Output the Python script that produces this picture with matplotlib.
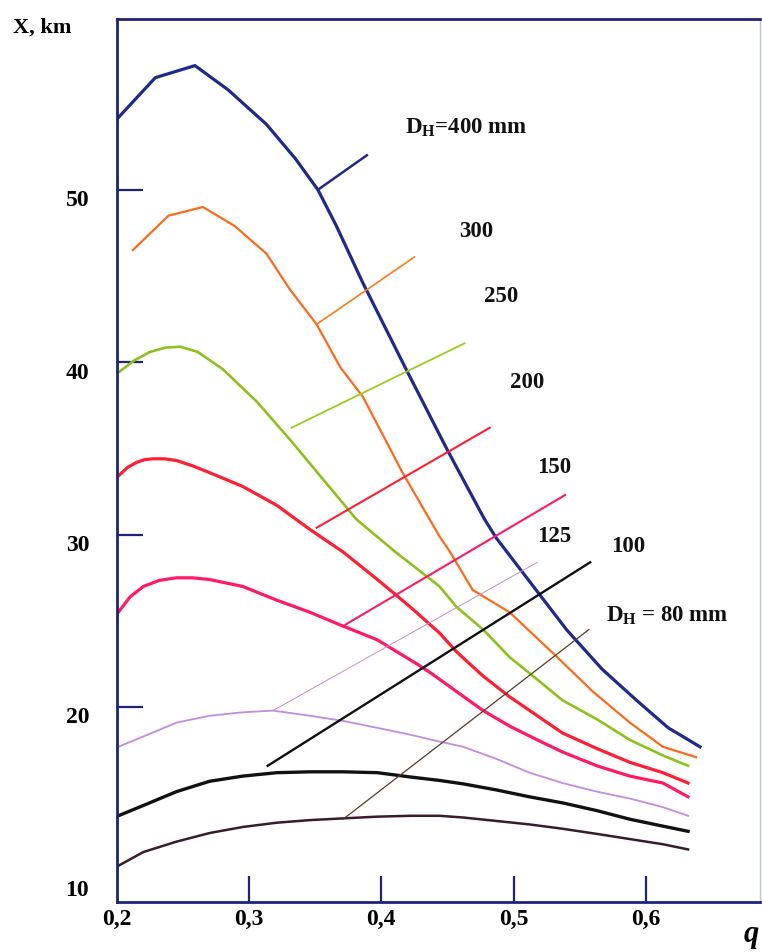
#bibliotecas
import matplotlib
matplotlib.use("Agg")
import matplotlib.pyplot as plt
from matplotlib.transforms import ScaledTranslation

# curvas X(q) para cada diametro D_H
q400 = [0.200, 0.229, 0.259, 0.284, 0.313, 0.335, 0.352, 0.366, 0.386, 0.418, 0.450, 0.478, 0.487, 0.520, 0.540, 0.567, 0.593, 0.617, 0.628, 0.641]
x400 = [54.1, 56.5, 57.2, 55.8, 53.8, 51.8, 50.0, 47.9, 44.6, 39.7, 34.9, 30.9, 29.8, 26.5, 24.5, 22.2, 20.4, 18.8, 18.3, 17.7]

q300 = [0.212, 0.239, 0.265, 0.289, 0.313, 0.331, 0.351, 0.369, 0.386, 0.416, 0.444, 0.452, 0.469, 0.497, 0.533, 0.560, 0.588, 0.613, 0.638]
x300 = [46.5, 48.5, 49.0, 47.9, 46.3, 44.2, 42.2, 39.7, 38.0, 33.6, 29.9, 29.0, 26.8, 25.5, 22.9, 20.9, 19.1, 17.7, 17.1]

q250 = [0.201, 0.213, 0.225, 0.237, 0.248, 0.261, 0.280, 0.306, 0.331, 0.356, 0.381, 0.409, 0.444, 0.457, 0.477, 0.497, 0.518, 0.537, 0.563, 0.588, 0.613, 0.632]
x250 = [39.4, 40.1, 40.6, 40.85, 40.9, 40.6, 39.6, 37.7, 35.5, 33.2, 30.9, 29.1, 27.0, 25.8, 24.5, 22.9, 21.6, 20.4, 19.3, 18.1, 17.2, 16.6]

q200 = [0.201, 0.208, 0.215, 0.221, 0.227, 0.236, 0.245, 0.257, 0.270, 0.295, 0.321, 0.346, 0.371, 0.397, 0.422, 0.444, 0.457, 0.477, 0.497, 0.518, 0.537, 0.563, 0.588, 0.613, 0.632]
x200 = [33.4, 33.9, 34.2, 34.35, 34.4, 34.4, 34.3, 34.0, 33.6, 32.8, 31.7, 30.3, 29.0, 27.4, 25.8, 24.3, 23.2, 21.8, 20.6, 19.5, 18.5, 17.6, 16.8, 16.2, 15.6]

q150 = [0.201, 0.210, 0.220, 0.232, 0.245, 0.257, 0.270, 0.295, 0.321, 0.346, 0.371, 0.397, 0.427, 0.437, 0.457, 0.477, 0.497, 0.518, 0.537, 0.563, 0.588, 0.613, 0.632]
x150 = [25.5, 26.4, 27.0, 27.35, 27.5, 27.5, 27.4, 27.0, 26.2, 25.5, 24.7, 23.9, 22.5, 22.0, 20.9, 19.8, 18.9, 18.1, 17.4, 16.6, 16.0, 15.6, 14.8]

q125 = [0.201, 0.220, 0.245, 0.270, 0.295, 0.318, 0.346, 0.371, 0.397, 0.422, 0.444, 0.462, 0.487, 0.512, 0.537, 0.563, 0.588, 0.613, 0.632]
x125 = [17.7, 18.3, 19.1, 19.5, 19.7, 19.8, 19.5, 19.2, 18.8, 18.4, 18.0, 17.7, 17.0, 16.2, 15.6, 15.1, 14.7, 14.2, 13.7]

q100 = [0.201, 0.220, 0.245, 0.270, 0.295, 0.321, 0.346, 0.371, 0.397, 0.422, 0.444, 0.462, 0.487, 0.512, 0.537, 0.563, 0.588, 0.613, 0.632]
x100 = [13.7, 14.3, 15.1, 15.7, 16.0, 16.2, 16.25, 16.25, 16.2, 15.95, 15.75, 15.55, 15.2, 14.8, 14.45, 14.0, 13.5, 13.1, 12.8]

q80 = [0.201, 0.220, 0.245, 0.270, 0.295, 0.321, 0.346, 0.371, 0.397, 0.422, 0.444, 0.462, 0.487, 0.512, 0.537, 0.563, 0.588, 0.613, 0.632]
x80 = [10.8, 11.6, 12.2, 12.7, 13.05, 13.3, 13.45, 13.55, 13.65, 13.7, 13.7, 13.6, 13.4, 13.2, 12.95, 12.65, 12.35, 12.05, 11.75]

# linhas inclinadas (ramos) de cada curva
br400_q = [0.352, 0.389]
br400_x = [50.0, 52.0]
br300_q = [0.351, 0.425]
br300_x = [42.2, 46.1]
br250_q = [0.332, 0.463]
br250_x = [36.2, 41.1]
br200_q = [0.351, 0.482]
br200_x = [30.4, 36.2]
br150_q = [0.371, 0.539]
br150_x = [24.7, 32.3]
br125_q = [0.318, 0.518]
br125_x = [19.8, 28.4]
br100_q = [0.314, 0.558]
br100_x = [16.6, 28.4]
br80_q = [0.371, 0.557]
br80_x = [13.5, 24.5]

# rotulos
labels = [r"D$_\mathrm{H}$=400 mm", "300", "250", "200", "150", "125", "100", r"D$_\mathrm{H}$ = 80 mm"]
xticks = [0.2, 0.3, 0.4, 0.5, 0.6]
xticklabels = ["0,2", "0,3", "0,4", "0,5", "0,6"]
yticks = [10, 20, 30, 40, 50]
yticklabels = ["10", "20", "30", "40", "50"]


def main():
    plt.rcParams["font.family"] = "Liberation Serif"
    plt.rcParams["font.weight"] = "bold"
    plt.rcParams["mathtext.fontset"] = "custom"
    plt.rcParams["mathtext.rm"] = "Liberation Serif:bold"
    plt.rcParams["mathtext.it"] = "Liberation Serif:italic:bold"

    navy = "#1b2478"

    fig = plt.figure(figsize=(7.62, 9.52), dpi=100)
    ax = fig.add_axes([0.1535, 0.0525, 0.844, 0.9275])

    # curvas principais
    ax.plot(q400, x400, color="#1f2a8f", lw=2.3)
    ax.plot(q300, x300, color="#ff6a1a", lw=1.6)
    ax.plot(q250, x250, color="#8cc21e", lw=1.9)
    ax.plot(q200, x200, color="#ff1f33", lw=2.3)
    ax.plot(q150, x150, color="#ff1a66", lw=2.3)
    ax.plot(q125, x125, color="#c48ae0", lw=1.3)
    ax.plot(q100, x100, color="#111111", lw=2.4)
    ax.plot(q80, x80, color="#3a1a2e", lw=1.8)

    # ramos
    ax.plot(br400_q, br400_x, color="#1f2a8f", lw=1.8)
    ax.plot(br300_q, br300_x, color="#ff7a1a", lw=1.2)
    ax.plot(br250_q, br250_x, color="#9acd1e", lw=1.3)
    ax.plot(br200_q, br200_x, color="#ff1f33", lw=1.5)
    ax.plot(br150_q, br150_x, color="#ff1a66", lw=1.5)
    ax.plot(br125_q, br125_x, color="#c48ae0", lw=0.7)
    ax.plot(br100_q, br100_x, color="#111111", lw=1.7)
    ax.plot(br80_q, br80_x, color="#5a3a22", lw=0.9)

    # textos das curvas
    pos = [(0.418, 53.6), (0.459, 47.6), (0.478, 43.8), (0.497, 38.8),
           (0.5175, 33.9), (0.5175, 29.9), (0.574, 29.3), (0.570, 25.3)]
    for txt, (px, py) in zip(labels, pos):
        ax.text(px, py, txt, fontsize=16.5, fontweight="bold", ha="left", va="center", color="#111111")

    ax.set_xlim(0.2, 0.6865)
    ax.set_ylim(8.7, 59.9)

    ax.set_xticks(xticks)
    ax.set_xticklabels(xticklabels)
    ax.set_yticks(yticks)
    ax.set_yticklabels(yticklabels)
    ax.tick_params(direction="in", length=19, width=1.6, color=navy, labelsize=17)
    ax.tick_params(axis="y", pad=20)
    ax.tick_params(axis="x", pad=5)
    ax.yaxis.get_major_ticks()[0].tick1line.set_visible(False)
    ax.xaxis.get_major_ticks()[0].tick1line.set_visible(False)

    off = ScaledTranslation(0, -6 / 72, fig.dpi_scale_trans)
    for lbl in ax.get_yticklabels():
        lbl.set_transform(lbl.get_transform() + off)

    for side in ["left", "bottom", "top"]:
        ax.spines[side].set_color(navy)
        ax.spines[side].set_linewidth(2)
    ax.spines["right"].set_color("#b8c4d8")
    ax.spines["right"].set_linewidth(1)

    fig.text(0.017, 0.971, "X, km", fontsize=16, fontweight="bold", ha="left", va="center")
    fig.text(0.976, 0.018, "q", fontsize=22, fontstyle="italic", fontweight="bold", ha="left", va="center")

    fig.savefig("out.png", dpi=100)


if __name__ == "__main__":
    main()
